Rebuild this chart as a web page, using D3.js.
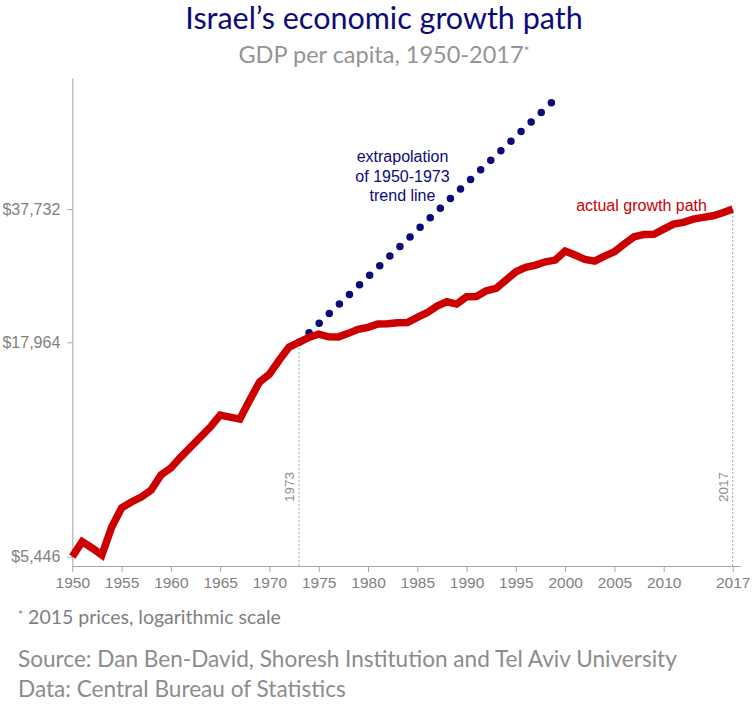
<!DOCTYPE html>
<html>
<head>
<meta charset="utf-8">
<script src="https://cdn.jsdelivr.net/npm/d3@7"></script>
<style>
  html, body { margin: 0; padding: 0; background: #fff; }
  svg { display: block; }
</style>
</head>
<body>
<svg id="chart" width="755" height="705"></svg>
<script>
// ---- data ----
const years = [1950,1951,1952,1953,1954,1955,1956,1957,1958,1959,
  1960,1961,1962,1963,1964,1965,1966,1967,1968,1969,
  1970,1971,1972,1973,1974,1975,1976,1977,1978,1979,
  1980,1981,1982,1983,1984,1985,1986,1987,1988,1989,
  1990,1991,1992,1993,1994,1995,1996,1997,1998,1999,
  2000,2001,2002,2003,2004,2005,2006,2007,2008,2009,
  2010,2011,2012,2013,2014,2015,2016,2017];
const gdpPerCapita = [5446,5920,5716,5498,6426,7143,7385,7593,7895,8582,
  8923,9485,10028,10602,11209,11983,11850,11719,13026,14400,
  15057,16277,17500,17964,18471,18814,18534,18520,18887,19311,
  19528,19891,19930,20035,20050,20647,21183,21987,22520,22233,
  23156,23200,23943,24264,25414,26615,27275,27627,28137,28406,
  29866,29207,28517,28248,29047,29749,31053,32339,32775,32800,
  33757,34709,35040,35690,36031,36353,36966,37732];
const trendYears = [1973, 1998.6];
const trendValues = [17964, 68200];
const xTickYears = [1950,1955,1960,1965,1970,1975,1980,1985,1990,1995,2000,2005,2010,2017];
const yTickValues = [5446, 17964, 37732];
const markerYears = [1973, 2017];
const markerValues = [17964, 37732];

// ---- layout ----
const svg = d3.select("#chart");
const x = d3.scaleLinear().domain([1950, 2017]).range([72.3, 732.7]);
const y = d3.scaleLog().domain([5170, 78300]).range([566, 78]);

const axisColor = "#a6a6a6";
const tickText = "#7f7f7f";
const navy = "#0b0b78";
const red = "#cc0000";

// title
svg.append("text").attr("x", 384).attr("y", 29)
  .attr("text-anchor", "middle")
  .style("font-family", "Lato, 'Open Sans', sans-serif")
  .style("font-size", "30.5px").style("fill", navy)
  .text("Israel\u2019s economic growth path");
const sub = svg.append("text").attr("x", 384).attr("y", 63)
  .attr("text-anchor", "middle")
  .style("font-family", "Lato, 'Open Sans', sans-serif")
  .style("font-size", "23.5px").style("fill", "#949494");
sub.append("tspan").text("GDP per capita, 1950-2017");
sub.append("tspan").attr("dy", -7).style("font-size", "14px").text("*");

// x axis
const xAxis = d3.axisBottom(x).tickValues(xTickYears).tickFormat(d3.format("d"))
  .tickSizeInner(6).tickSizeOuter(0).tickPadding(5);
const gx = svg.append("g").attr("transform", "translate(0,566)").call(xAxis);
gx.select(".domain").attr("d", "M72.3,0.5H741").attr("stroke", axisColor);
gx.selectAll(".tick line").attr("stroke", axisColor);
gx.selectAll(".tick text").style("font-family", "'Liberation Sans', Arial, sans-serif")
  .style("font-size", "15.5px").style("fill", tickText);

// y axis
const yAxis = d3.axisLeft(y).tickValues(yTickValues).tickFormat(d => "$" + d3.format(",")(d))
  .tickSizeInner(5).tickSizeOuter(0).tickPadding(7);
const gy = svg.append("g").attr("transform", "translate(72.3,0)").call(yAxis);
gy.select(".domain").attr("stroke", axisColor);
gy.selectAll(".tick line").attr("stroke", axisColor);
gy.selectAll(".tick text").style("font-family", "'Liberation Sans', Arial, sans-serif")
  .style("font-size", "16px").style("fill", tickText);

// vertical marker lines
markerYears.forEach((yr, i) => {
  svg.append("line")
    .attr("x1", x(yr)).attr("x2", x(yr))
    .attr("y1", 566).attr("y2", y(markerValues[i]))
    .attr("stroke", "#a0a0a0").attr("stroke-width", 1)
    .attr("stroke-dasharray", "2,2");
  svg.append("text")
    .attr("transform", `translate(${x(yr) - 5},487) rotate(-90)`)
    .attr("text-anchor", "middle")
    .style("font-family", "'Liberation Sans', Arial, sans-serif")
    .style("font-size", "13.5px").style("fill", "#8c8c8c")
    .text(String(yr));
});

// trend dotted line
const trendLine = d3.line().x(d => x(d[0])).y(d => y(d[1]));
const trendPath = svg.append("path")
  .datum(trendYears.map((t, i) => [t, trendValues[i]]))
  .attr("d", trendLine)
  .attr("fill", "none").attr("stroke", navy)
  .attr("stroke-width", 7.5).attr("stroke-linecap", "round");
const len = trendPath.node().getTotalLength();
trendPath.attr("stroke-dasharray", `0 ${len / 25}`);

// actual line
const line = d3.line().x(d => x(d[0])).y(d => y(d[1]));
svg.append("path")
  .datum(years.map((yr, i) => [yr, gdpPerCapita[i]]))
  .attr("d", line)
  .attr("fill", "none").attr("stroke", red)
  .attr("stroke-width", 7.5).attr("stroke-linejoin", "miter");

// annotations
const ann = svg.append("text").attr("text-anchor", "middle")
  .style("font-family", "'Liberation Sans', Arial, sans-serif")
  .style("font-size", "16px").style("fill", navy);
["extrapolation", "of 1950-1973", "trend line"].forEach((t, i) => {
  ann.append("tspan").attr("x", 402.5).attr("y", 162 + i * 19.5).text(t);
});
svg.append("text").attr("x", 641.5).attr("y", 211).attr("text-anchor", "middle")
  .style("font-family", "'Liberation Sans', Arial, sans-serif")
  .style("font-size", "16px").style("fill", red)
  .text("actual growth path");

// footer
const foot = "Lato, 'Open Sans', sans-serif";
const fn = svg.append("text").attr("x", 18).attr("y", 624)
  .style("font-family", foot).style("font-size", "19.5px").style("fill", "#808080");
fn.append("tspan").attr("dy", -5).style("font-size", "12px").text("*");
fn.append("tspan").attr("dy", 5).text(" 2015 prices, logarithmic scale");
svg.append("text").attr("x", 18).attr("y", 667)
  .style("font-family", foot).style("font-size", "22.6px").style("fill", "#8c8c8c")
  .text("Source: Dan Ben-David, Shoresh Institution and Tel Aviv University");
svg.append("text").attr("x", 18).attr("y", 697)
  .style("font-family", foot).style("font-size", "22.6px").style("fill", "#8c8c8c")
  .text("Data: Central Bureau of Statistics");
</script>
</body>
</html>
